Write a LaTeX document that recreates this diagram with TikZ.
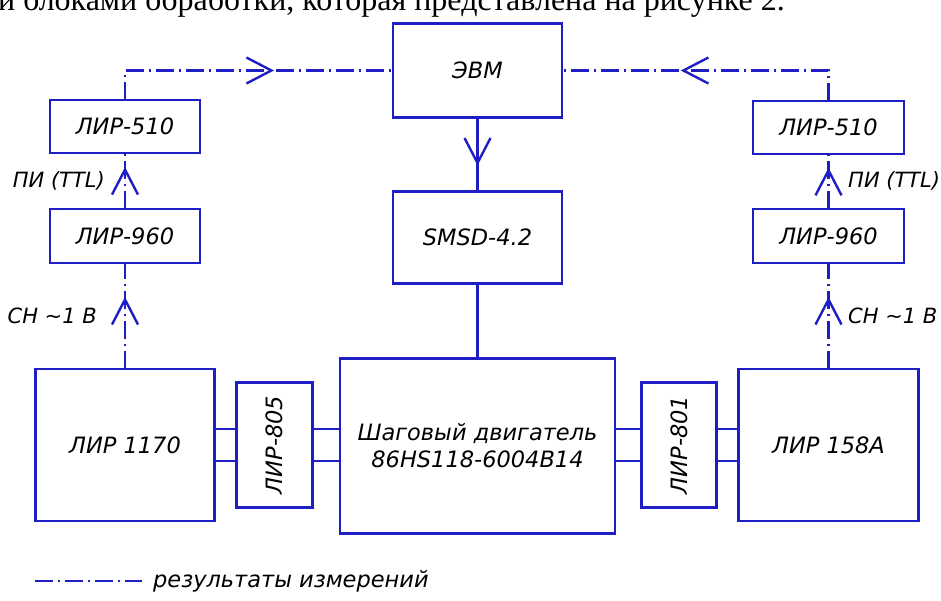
\documentclass[tikz,border=0pt]{standalone}
\usepackage{fontspec}
\usetikzlibrary{positioning,arrows.meta,decorations.markings}
\newfontfamily\gost{DejaVu Sans}
\newfontfamily\tnr{Liberation Serif}
\definecolor{lblue}{HTML}{1E1EC4}

\begin{document}
\begin{tikzpicture}[x=1pt,y=-1pt,node distance=20pt,
  blk/.style={draw=lblue,line width=2.4pt,inner sep=0pt,outer sep=0pt,align=center,
    font=\gost\itshape\fontsize{22.5}{27}\selectfont},
  ln/.style={draw=lblue,line width=2.4pt},
  res/.style={ln,dash pattern=on 18pt off 5pt on 2pt off 5pt},
  mid/.style={postaction={decorate},decoration={markings,
    mark=at position #1 with {\arrow{Straight Barb[length=25pt,width=26pt]}}}},
  lbl/.style={inner sep=0pt,font=\gost\itshape\fontsize{21}{26}\selectfont}]
  \path[use as bounding box] (0,0) rectangle (941,601);
  \clip (0,0) rectangle (941,601);
  % text line above the figure
  \node[anchor=base east,inner sep=0pt,font=\tnr\fontsize{32}{36}\selectfont] (txt) at (785,11)
    {и блоками обработки, которая представлена на рисунке 2.};
  % centre column
  \node[blk,minimum width=169pt,minimum height=94pt] (evm) at (477.5,70.5) {ЭВМ};
  \node[blk,minimum width=169pt,minimum height=92pt,below=74pt of evm] (smsd) {SMSD-4.2};
  \node[blk,minimum width=275pt,minimum height=175pt,below=75pt of smsd] (motor)
    {Шаговый двигатель\\86HS118-6004B14};
  % left column
  \node[blk,minimum width=150pt,minimum height=53pt] (l510) at (125,126.5) {ЛИР-510};
  \node[blk,minimum width=150pt,minimum height=54pt,below=56pt of l510] (l960) {ЛИР-960};
  \node[blk,minimum width=179pt,minimum height=152pt,below=106pt of l960] (l1170) {ЛИР 1170};
  \node[blk,minimum width=76pt,minimum height=125pt,right=22pt of l1170] (l805)
    {\rotatebox{90}{ЛИР-805}};
  % right column
  \node[blk,minimum width=151pt,minimum height=53pt] (r510) at (828.5,127.5) {ЛИР-510};
  \node[blk,minimum width=151pt,minimum height=54pt,below=55pt of r510] (r960) {ЛИР-960};
  \node[blk,minimum width=180pt,minimum height=152pt,below=106pt of r960] (r158) {ЛИР 158A};
  \node[blk,minimum width=75pt,minimum height=125pt,left=22pt of r158] (r801)
    {\rotatebox{90}{ЛИР-801}};
  % signal labels
  \node[lbl,anchor=east] (lpi) at (105,181) {ПИ (TTL)};
  \node[lbl,anchor=east] (lsn) at (97,316) {СН \textasciitilde1 В};
  \node[lbl,anchor=west] (rpi) at (848,181) {ПИ (TTL)};
  \node[lbl,anchor=west] (rsn) at (848,316) {СН \textasciitilde1 В};
  % solid links
  \draw[ln,mid=0.65] (evm) -- (smsd);
  \draw[ln] (smsd) -- (motor);
  \foreach \s in {16,-16}{
    \draw[ln] ([yshift=\s pt]l1170.east) -- ([yshift=\s pt]l805.west);
    \draw[ln] ([yshift=\s pt]l805.east) -- ([yshift=\s pt]l805.east -| motor.west);
    \draw[ln] ([yshift=\s pt]r801.west) -- ([yshift=\s pt]r801.west -| motor.east);
    \draw[ln] ([yshift=\s pt]r801.east) -- ([yshift=\s pt]r158.west);
  }
  % measurement results
  \draw[res,mid=0.68] (l1170) -- (l960);
  \draw[res,mid=0.75] (l960) -- (l510);
  \draw[res,mid=0.6] (l510.north) |- (evm.west);
  \draw[res,mid=0.68] (r158) -- (r960);
  \draw[res,mid=0.75] (r960) -- (r510);
  \draw[res,mid=0.6] (r510.north) |- (evm.east);
  % legend
  \coordinate (lg) at (35,581);
  \node[lbl,anchor=west,font=\gost\itshape\fontsize{22.5}{27}\selectfont] (legtxt) at (153,581)
    {результаты измерений};
  \draw[res] (lg) -- ([xshift=-11pt]legtxt.west);
\end{tikzpicture}
\end{document}
